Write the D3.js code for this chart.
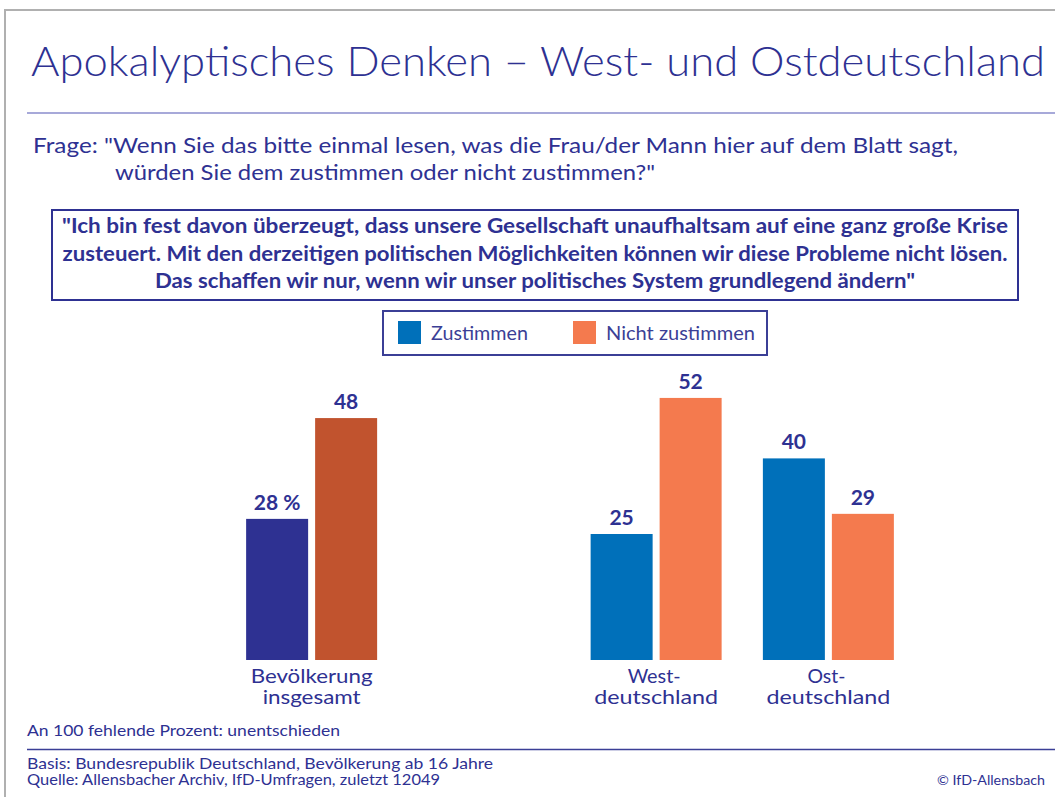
<!DOCTYPE html>
<html>
<head>
<meta charset="utf-8">
<script src="https://cdn.jsdelivr.net/npm/d3@7"></script>
<style>
  body { margin: 0; background: #fff; }
  svg { display: block; font-family: Lato, "DejaVu Sans", sans-serif; }
</style>
</head>
<body>
<svg id="chart" width="1055" height="797"></svg>
<script>
// data
const groups = ["Bevölkerung insgesamt", "Westdeutschland", "Ostdeutschland"];
const groupLabels = [["Bevölkerung", "insgesamt"], ["West-", "deutschland"], ["Ost-", "deutschland"]];
const seriesNames = ["Zustimmen", "Nicht zustimmen"];
const zustimmen = [28, 25, 40];
const nichtZustimmen = [48, 52, 29];

const title = "Apokalyptisches Denken – West- und Ostdeutschland";
const question = ["Frage:  \"Wenn Sie das bitte einmal lesen, was die Frau/der Mann hier auf dem Blatt sagt,",
  "würden Sie dem zustimmen oder nicht zustimmen?\""];
const statement = ["\"Ich bin fest davon überzeugt, dass unsere Gesellschaft unaufhaltsam auf eine ganz große Krise",
  "zusteuert. Mit den derzeitigen politischen Möglichkeiten können wir diese Probleme nicht lösen.",
  "Das schaffen wir nur, wenn wir unser politisches System grundlegend ändern\""];
const note = "An 100 fehlende Prozent: unentschieden";
const sources = ["Basis: Bundesrepublik Deutschland, Bevölkerung ab 16 Jahre",
  "Quelle: Allensbacher Archiv, IfD-Umfragen, zuletzt 12049"];
const copyright = "© IfD-Allensbach";

const navy = "#2e3192";
const colorsTotal = ["#2e3192", "#c1532e"];
const colorsRegion = ["#0070ba", "#f47a4e"];

const svg = d3.select("#chart");

function fit(sel, w) {
  // stretch the substitute font to the width of the original lettering
  return sel.attr("textLength", w).attr("lengthAdjust", "spacingAndGlyphs");
}

// frame
svg.append("path")
  .attr("d", "M5,797 V10 H1055")
  .attr("fill", "none")
  .attr("stroke", "#b0b0b0")
  .attr("stroke-width", 2);

// title
svg.append("text")
  .attr("x", 31).attr("y", 76)
  .attr("fill", navy)
  .attr("font-size", 42)
  .attr("font-weight", 300)
  .text(title)
  .call(fit, 1014);

svg.append("line")
  .attr("x1", 27).attr("x2", 1055)
  .attr("y1", 113).attr("y2", 113)
  .attr("stroke", "#8a8dcc")
  .attr("stroke-width", 1.5);

// question
svg.append("text")
  .attr("x", 33).attr("y", 153)
  .attr("fill", navy).attr("font-size", 21)
  .text(question[0]).call(fit, 925);
svg.append("text")
  .attr("x", 115).attr("y", 180)
  .attr("fill", navy).attr("font-size", 21)
  .text(question[1]).call(fit, 540);

// statement box
svg.append("rect")
  .attr("x", 52).attr("y", 210)
  .attr("width", 966).attr("height", 90)
  .attr("fill", "none")
  .attr("stroke", navy)
  .attr("stroke-width", 2);

const statementWidths = [946, 945, 760];
statement.forEach((s, i) => {
  svg.append("text")
    .attr("x", 535).attr("y", 233 + i * 27.5)
    .attr("text-anchor", "middle")
    .attr("fill", navy)
    .attr("font-size", 20)
    .attr("font-weight", "bold")
    .text(s).call(fit, statementWidths[i]);
});

// legend
svg.append("rect")
  .attr("x", 383).attr("y", 311)
  .attr("width", 384).attr("height", 44)
  .attr("fill", "none")
  .attr("stroke", "#3b3f96")
  .attr("stroke-width", 2);

const legendX = [398, 573];
const legendW = [97, 149];
const legend = svg.append("g").selectAll("g")
  .data(seriesNames)
  .join("g")
  .attr("transform", (d, i) => `translate(${legendX[i]},321)`);
legend.append("rect")
  .attr("width", 23).attr("height", 23)
  .attr("fill", (d, i) => colorsRegion[i]);
legend.append("text")
  .attr("x", 33).attr("y", 19)
  .attr("fill", "#3b3f96")
  .attr("font-size", 19)
  .text(d => d)
  .each(function (d, i) { d3.select(this).call(fit, legendW[i]); });

// scales
const baseline = 660;
const y = d3.scaleLinear().domain([0, 100]).range([baseline, baseline - 504]);
const x0 = d3.scaleBand()
  .domain([groups[0], "spacer", groups[1], groups[2]])
  .range([225.5, 914.5]);
const x1 = d3.scaleBand()
  .domain(seriesNames)
  .range([0, 131])
  .paddingInner(0.1014);
const groupLeft = g => x0(g) + (x0.bandwidth() - 131) / 2;

const bars = [];
groups.forEach((g, gi) => {
  [zustimmen[gi], nichtZustimmen[gi]].forEach((v, si) => {
    bars.push({ group: g, gi: gi, series: seriesNames[si], si: si, value: v });
  });
});

const plot = svg.append("g");
plot.selectAll("rect")
  .data(bars)
  .join("rect")
  .attr("x", d => groupLeft(d.group) + x1(d.series))
  .attr("y", d => y(d.value))
  .attr("width", x1.bandwidth())
  .attr("height", d => y(0) - y(d.value))
  .attr("fill", d => (d.gi === 0 ? colorsTotal : colorsRegion)[d.si]);

plot.selectAll("text.value")
  .data(bars)
  .join("text")
  .attr("class", "value")
  .attr("x", d => groupLeft(d.group) + x1(d.series) + x1.bandwidth() / 2)
  .attr("y", d => y(d.value) - 9)
  .attr("text-anchor", "middle")
  .attr("fill", navy)
  .attr("font-size", 21)
  .attr("font-weight", "bold")
  .text((d, i) => (i === 0 ? d.value + " %" : d.value));

// category labels
const labelW = [[122, 98], [53, 124], [38, 124]];
groups.forEach((g, gi) => {
  groupLabels[gi].forEach((line, li) => {
    svg.append("text")
      .attr("x", x0(g) + x0.bandwidth() / 2 - (li === 0 && gi > 0 ? 2 : 0))
      .attr("y", 683 + li * 21)
      .attr("text-anchor", "middle")
      .attr("fill", navy)
      .attr("font-size", 19)
      .text(line)
      .call(fit, labelW[gi][li]);
  });
});

// footer
svg.append("text")
  .attr("x", 27).attr("y", 736)
  .attr("fill", navy).attr("font-size", 15)
  .text(note).call(fit, 313);

svg.append("line")
  .attr("x1", 27).attr("x2", 1055)
  .attr("y1", 749.5).attr("y2", 749.5)
  .attr("stroke", "#3b3f96")
  .attr("stroke-width", 1.5);

const sourceW = [466, 413];
sources.forEach((s, i) => {
  svg.append("text")
    .attr("x", 27).attr("y", 769 + i * 16)
    .attr("fill", navy).attr("font-size", 15)
    .text(s).call(fit, sourceW[i]);
});

svg.append("text")
  .attr("x", 1045).attr("y", 785)
  .attr("text-anchor", "end")
  .attr("fill", navy).attr("font-size", 13)
  .text(copyright).call(fit, 108);
</script>
</body>
</html>
